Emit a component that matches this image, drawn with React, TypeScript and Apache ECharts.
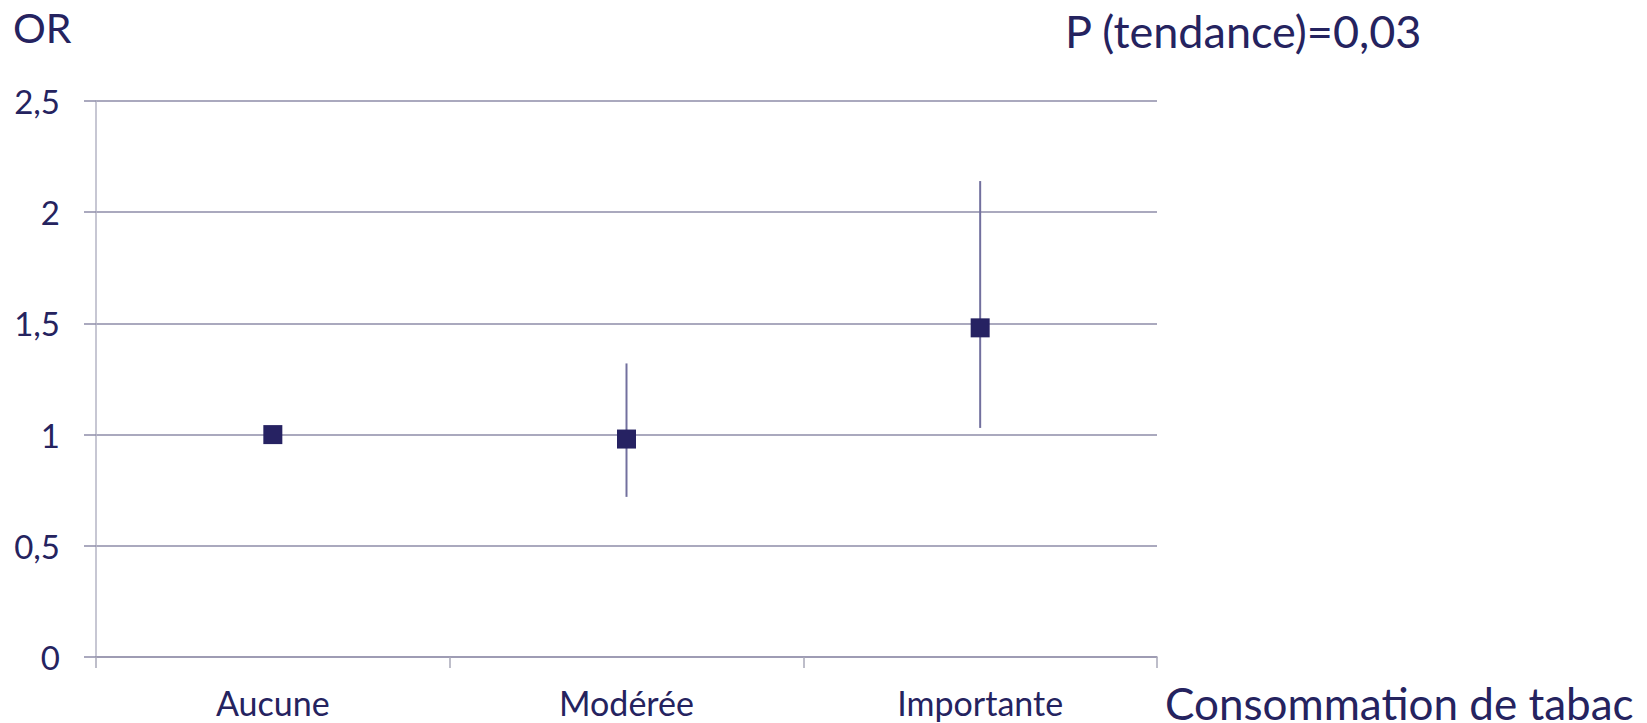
import React, { useEffect, useRef } from "react";
import * as echarts from "echarts";

const categories = ["Aucune", "Modérée", "Importante"];
const orValues = [1, 0.98, 1.48];
const ciLow: (number | null)[] = [null, 0.72, 1.03];
const ciHigh: (number | null)[] = [null, 1.32, 2.14];
const yTicks = [0, 0.5, 1, 1.5, 2, 2.5];

const TEXT = "#25235f";
const FONT = "Lato";

export default function App() {
  const ref = useRef<HTMLDivElement>(null);
  useEffect(() => {
    if (!ref.current) return;
    const chart = echarts.init(ref.current, null, { renderer: "svg" });
    const errData = categories
      .map((c, i) => [i, ciLow[i], ciHigh[i]])
      .filter((d) => d[1] != null);
    chart.setOption({
      animation: false,
      grid: {
        left: 96,
        right: 490,
        top: 101,
        bottom: 66,
        containLabel: false,
        outerBoundsMode: "none",
      },
      xAxis: {
        type: "category",
        data: categories,
        boundaryGap: true,
        axisLine: { show: true, lineStyle: { color: "#9a98b0", width: 1.5 } },
        axisTick: { show: true, length: 11, lineStyle: { color: "#a8a8b8", width: 1.5 } },
        axisLabel: { color: TEXT, fontFamily: FONT, fontSize: 34, margin: 28 },
        name: "Consommation de tabac",
        nameLocation: "end",
        nameGap: 8,
        nameTextStyle: {
          color: TEXT,
          fontFamily: FONT,
          fontSize: 44,
          lineHeight: 32,
          align: "left",
          verticalAlign: "top",
          padding: [30, 0, 0, 0],
        },
      },
      yAxis: {
        type: "value",
        min: 0,
        max: 2.5,
        interval: 0.5,
        axisLine: { show: true, lineStyle: { color: "#b4b4c4", width: 1.5 } },
        axisTick: { show: true, length: 12, lineStyle: { color: "#8e8ca8", width: 1.5 } },
        splitLine: { show: true, lineStyle: { color: "#8e8ca8", width: 1.5 } },
        axisLabel: {
          color: TEXT,
          fontFamily: FONT,
          fontSize: 33,
          margin: 36,
          formatter: (v: number) => {
            const t = yTicks.find((x) => Math.abs(x - v) < 1e-9);
            return String(t ?? v).replace(".", ",");
          },
        },
      },
      series: [
        {
          type: "custom",
          z: 2,
          data: errData,
          encode: { x: 0, y: [1, 2] },
          renderItem: (params: any, api: any) => {
            const x = api.value(0);
            const lo = api.coord([x, api.value(1)]);
            const hi = api.coord([x, api.value(2)]);
            return {
              type: "line",
              shape: { x1: lo[0], y1: lo[1], x2: hi[0], y2: hi[1] },
              style: { stroke: "#72709e", lineWidth: 2 },
            };
          },
        },
        {
          type: "scatter",
          z: 3,
          data: orValues,
          symbol: "rect",
          symbolSize: 19,
          itemStyle: { color: "#262262", opacity: 1 },
        },
      ],
      graphic: [
        {
          type: "text",
          left: 13,
          top: 7,
          style: { text: "OR", fill: TEXT, font: `41px ${FONT}` },
        },
        {
          type: "text",
          left: 1065,
          top: 8,
          style: { text: "P (tendance)=0,03", fill: TEXT, font: `45px ${FONT}` },
        },
      ],
    });
    return () => chart.dispose();
  }, []);
  return (
    <div
      ref={ref}
      style={{ position: "absolute", left: 0, top: 0, width: 1647, height: 723, background: "#fff" }}
    />
  );
}
